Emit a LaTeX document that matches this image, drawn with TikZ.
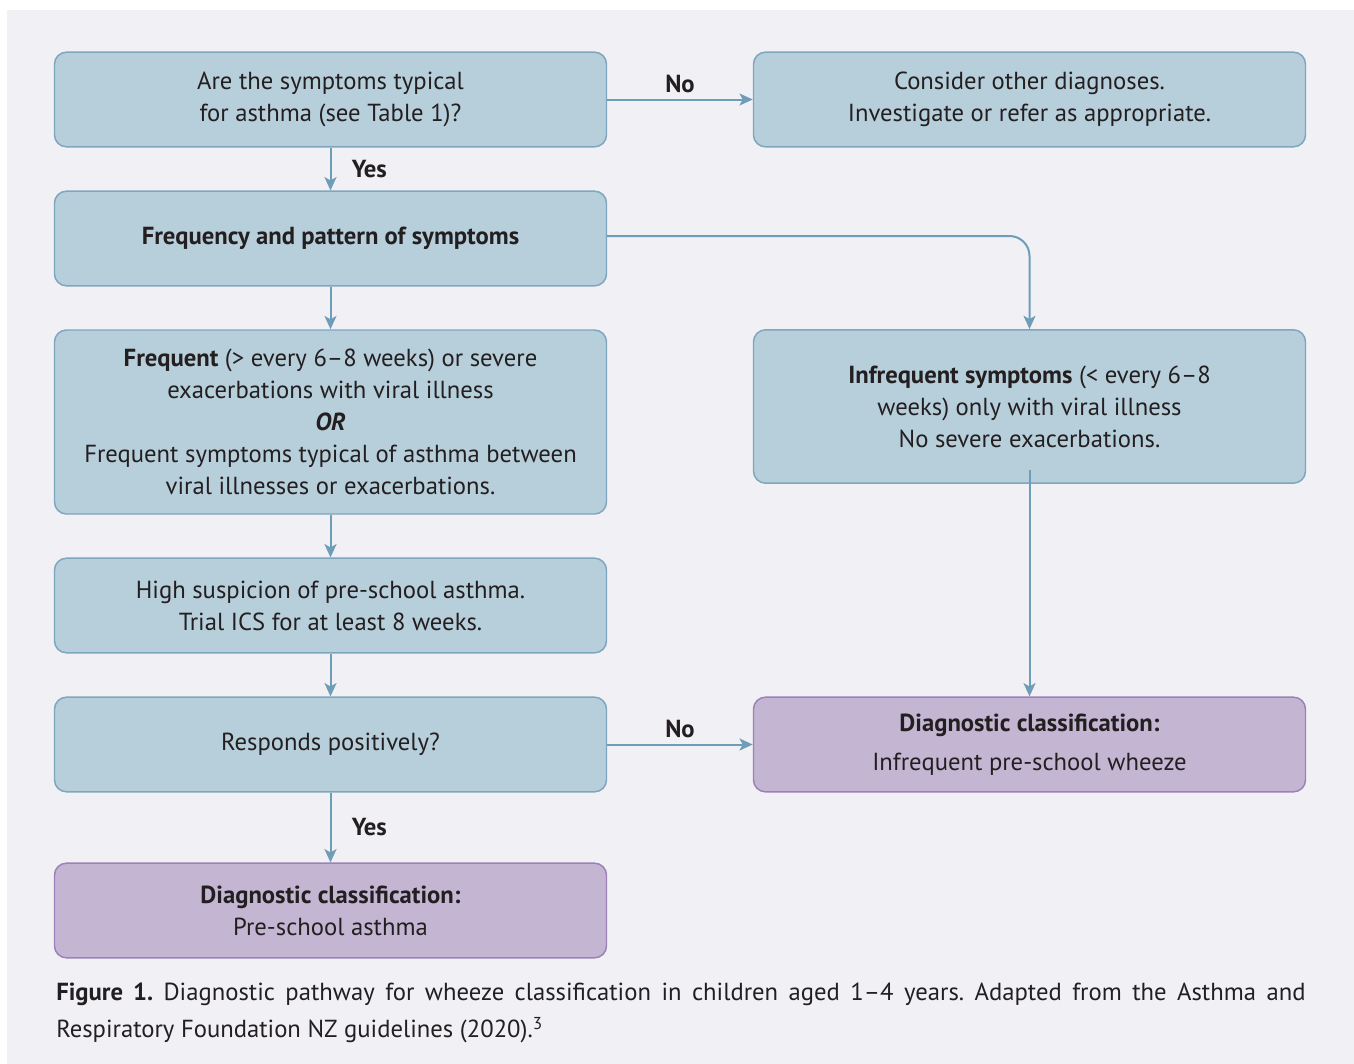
\documentclass[tikz,border=0pt]{standalone}
\usepackage{fontspec}
\setmainfont{PT Sans}
\usepackage{xcolor}
\usepackage{tikz}
\usetikzlibrary{arrows.meta,positioning,calc}
\frenchspacing
\definecolor{panel}{HTML}{F1F0F5}
\definecolor{boxblue}{HTML}{B7CEDB}
\definecolor{edgeblue}{HTML}{7EA6BF}
\definecolor{arrowblue}{HTML}{6E9DB8}
\definecolor{boxpurple}{HTML}{C4B6D3}
\definecolor{edgepurple}{HTML}{9C80B8}
\definecolor{ink}{HTML}{231F20}
\tikzset{
  blk/.style={draw=edgeblue, fill=boxblue, rounded corners=9pt, line width=1.1pt, align=center,
    minimum width=414pt, minimum height=71pt, inner sep=4pt, text=ink,
    font=\fontsize{18.5}{24}\selectfont},
  blkp/.style={blk, fill=boxpurple, draw=edgepurple},
  ar/.style={-{Stealth[length=10pt, width=9pt, inset=2.5pt]}, line width=1.5pt, draw=arrowblue},
  lbl/.style={font=\fontsize{18.5}{24}\selectfont\bfseries, text=ink},
}
\begin{document}
\begin{tikzpicture}[x=0.75pt, y=-0.75pt]
  \useasboundingbox (0,0) rectangle (1354,1064);
  \fill[white] (0,0) rectangle (1354,1064);
  \fill[panel] (7,10) rectangle (1354,1064);

  % left column
  \node[blk] (typical) at (330.5,99.5) {Are the symptoms typical\\for asthma (see Table 1)?};
  \node[blk] (pattern) at (330.5,238.5) {\textbf{Frequency and pattern of symptoms}};
  \node[blk, minimum height=138pt] (frequent) at (330.5,422)
    {\textbf{Frequent} (> every 6–8 weeks) or severe\\exacerbations with viral illness\\
     \textbf{\textit{OR}}\\Frequent symptoms typical of asthma between\\viral illnesses or exacerbations.};
  \node[blk] (suspicion) at (330.5,605.5) {High suspicion of pre-school asthma.\\Trial ICS for at least 8 weeks.};
  \node[blk] (responds) at (330.5,744.5) {Responds positively?};
  \node[blkp] (asthma) at (330.5,910.5) {\textbf{Diagnostic classification:}\\Pre-school asthma};

  % right column
  \node[blk] (other) at (1029.5,99.5) {Consider other diagnoses.\\Investigate or refer as appropriate.};
  \node[blk, minimum height=115pt] (infrequent) at (1029.5,406.5)
    {\textbf{Infrequent symptoms} (< every 6–8\\weeks) only with viral illness\\No severe exacerbations.};
  \node[blkp] (wheeze) at (1029.5,744.5) {\textbf{Diagnostic classification:}\\[5pt]Infrequent pre-school wheeze};

  % connectors
  \draw[ar] (typical) -- (other) node[lbl, midway, above=1pt] {No};
  \draw[ar] (typical) -- (pattern) node[lbl, midway, right=12pt] {Yes};
  \draw[ar, rounded corners=15pt] (pattern.east |- 0,236) -| (infrequent.north);
  \draw[ar] (pattern) -- (frequent);
  \draw[ar] (frequent) -- (suspicion);
  \draw[ar] (suspicion) -- (responds);
  \draw[ar] (responds) -- (wheeze) node[lbl, midway, above=1pt] {No};
  \draw[ar] (responds) -- (asthma) node[lbl, midway, right=12pt] {Yes};
  \draw[ar] ([yshift=10.5pt]infrequent.south) -- (wheeze);

  % caption
  \node[anchor=north west, text width=937pt, align=justify, inner sep=0pt, text=ink,
    font=\fontsize{18.5}{27.5}\selectfont] (caption) at (56,983)
    {\hyphenpenalty=10000\relax\textbf{Figure 1.} Diagnostic pathway for wheeze classification in children aged 1–4 years. Adapted from the Asthma and\linebreak Respiratory Foundation NZ guidelines (2020).\textsuperscript{3}};
\end{tikzpicture}
\end{document}
